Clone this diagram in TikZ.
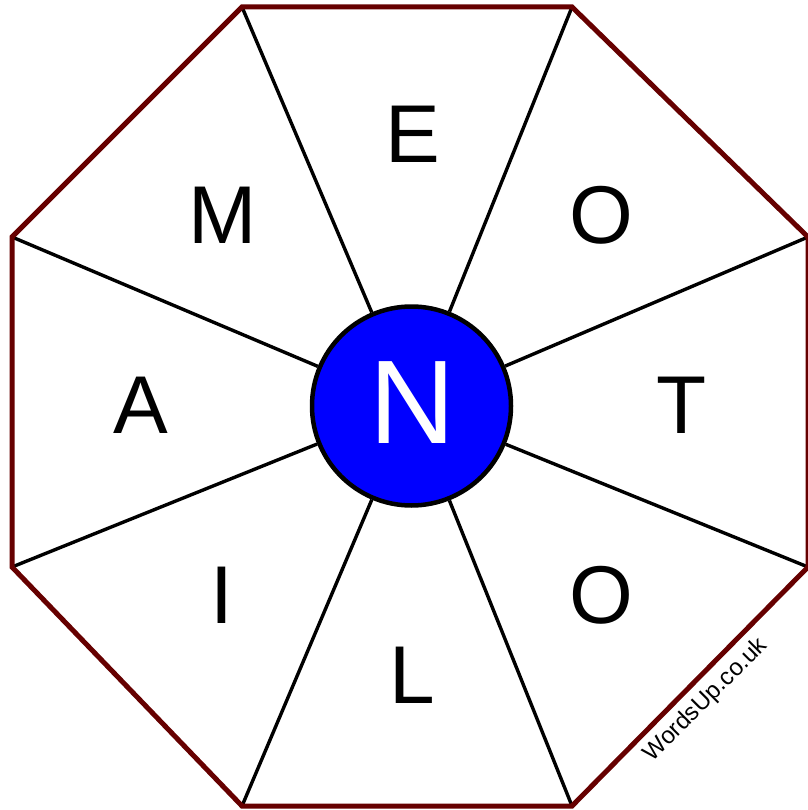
\documentclass[tikz,border=0pt]{standalone}
\usepackage{fontspec}
\setmainfont{Liberation Sans}
\definecolor{rimred}{RGB}{102,0,0}
\begin{document}
\begin{tikzpicture}[x=1pt,y=-1pt,
  rim/.style={draw=rimred, line width=5pt, line join=miter},
  spoke/.style={draw=black, line width=3.4pt},
  hub/.style={circle, fill=blue, draw=black, line width=4.5pt, minimum size=199pt, inner sep=0pt},
  letter/.style={font=\fontsize{82}{82}\selectfont, anchor=base, inner sep=0pt},
  hubletter/.style={font=\fontsize{119}{119}\selectfont, anchor=base, inner sep=0pt, text=white},
  watermark/.style={font=\fontsize{24}{24}\selectfont, rotate=45, inner sep=0pt}]
\useasboundingbox (0,0) rectangle (807,810);
\coordinate (v1) at (242,7);
\coordinate (v2) at (572,7);
\coordinate (v3) at (808,237);
\coordinate (v4) at (808,567);
\coordinate (v5) at (572,806);
\coordinate (v6) at (242,806);
\coordinate (v7) at (12,567);
\coordinate (v8) at (12,237);
\node[hub] (c) at (411.5,406) {};
\foreach \v in {v1,v2,v3,v4,v5,v6,v7,v8}
  \draw[spoke] (\v) -- (c);
\draw[rim] (v1) -- (v2) -- (v3) -- (v4) -- (v5) -- (v6) -- (v7) -- (v8) -- cycle;
\node[hubletter] (n) at (412,443) {N};
\node[letter] (e) at (413,163) {E};
\node[letter] (o1) at (601,243) {O};
\node[letter] (t) at (682,433) {T};
\node[letter] (o2) at (601,623) {O};
\node[letter] (l) at (412,703) {L};
\node[letter] (i) at (222,623) {I};
\node[letter] (a) at (141,433) {A};
\node[letter] (m) at (222.5,243) {M};
\node[watermark] (w) at (706,700) {WordsUp.co.uk};
\end{tikzpicture}
\end{document}
